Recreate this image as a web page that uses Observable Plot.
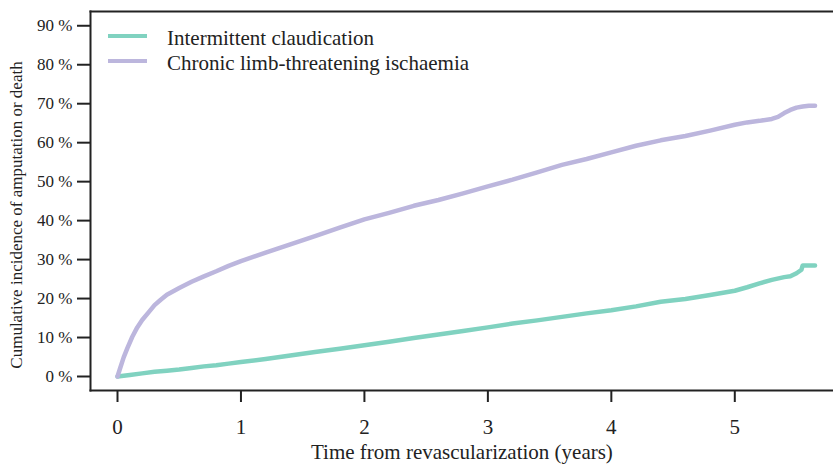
<!DOCTYPE html>
<html><head><meta charset="utf-8">
<script src="https://cdn.jsdelivr.net/npm/d3@7"></script>
<script src="https://cdn.jsdelivr.net/npm/@observablehq/plot@0.6"></script>
<style>
body{margin:0;background:#fff}
#wrap{position:relative;width:833px;height:466px;font-family:'Liberation Serif','Times New Roman',serif;color:#222}
.lab{position:absolute;white-space:nowrap}
.sw{position:absolute;height:4px;width:39px}
</style>
</head><body><div id="wrap"></div>
<script>
const seriesNames = ["Intermittent claudication", "Chronic limb-threatening ischaemia"];
const seriesColors = ["#80d2c0", "#bcb6dd"];
const xTitle = "Time from revascularization (years)";
const yTitle = "Cumulative incidence of amputation or death";
const xTicks = [0, 1, 2, 3, 4, 5];
const yTicks = [0, 10, 20, 30, 40, 50, 60, 70, 80, 90];

const icTime  = [0, 0.1, 0.2, 0.3, 0.4, 0.5, 0.6, 0.7, 0.8, 0.9, 1.0, 1.2, 1.4, 1.6, 1.8, 2.0, 2.2, 2.4, 2.6, 2.8, 3.0, 3.2, 3.4, 3.6, 3.8, 4.0, 4.2, 4.4, 4.6, 4.8, 5.0, 5.1, 5.2, 5.3, 5.4, 5.45, 5.5, 5.54, 5.55, 5.6, 5.65];
const icValue = [0, 0.4, 0.8, 1.2, 1.5, 1.8, 2.2, 2.6, 2.9, 3.3, 3.7, 4.5, 5.4, 6.3, 7.1, 8.0, 8.9, 9.9, 10.8, 11.7, 12.6, 13.6, 14.4, 15.3, 16.2, 17.0, 18.0, 19.2, 19.9, 20.9, 22.0, 22.9, 23.9, 24.8, 25.5, 25.7, 26.5, 27.4, 28.5, 28.5, 28.5];

const cltiTime  = [0, 0.02, 0.05, 0.08, 0.12, 0.16, 0.2, 0.25, 0.3, 0.35, 0.4, 0.5, 0.6, 0.7, 0.8, 0.9, 1.0, 1.2, 1.4, 1.6, 1.8, 2.0, 2.2, 2.4, 2.6, 2.8, 3.0, 3.2, 3.4, 3.6, 3.8, 4.0, 4.2, 4.4, 4.6, 4.8, 5.0, 5.1, 5.2, 5.3, 5.35, 5.4, 5.45, 5.5, 5.55, 5.6, 5.65];
const cltiValue = [0, 2.0, 4.9, 7.3, 10.2, 12.6, 14.5, 16.4, 18.3, 19.7, 21.0, 22.7, 24.3, 25.7, 27.0, 28.4, 29.6, 31.8, 33.9, 36.0, 38.2, 40.3, 42.0, 43.8, 45.3, 47.0, 48.8, 50.5, 52.4, 54.3, 55.8, 57.5, 59.2, 60.6, 61.7, 63.1, 64.6, 65.2, 65.6, 66.1, 66.6, 67.6, 68.4, 69.0, 69.3, 69.5, 69.5];

const rows = [
  ...icTime.map((t, i) => ({t, v: icValue[i], s: seriesNames[0]})),
  ...cltiTime.map((t, i) => ({t, v: cltiValue[i], s: seriesNames[1]}))
];

const plot = Plot.plot({
  width: 833, height: 466,
  marginLeft: 90, marginRight: 0, marginTop: 11, marginBottom: 76,
  style: {fontFamily: "'Liberation Serif','Times New Roman',serif", background: "#fff", color: "#222"},
  x: {domain: [-0.2187, 5.7995]},
  y: {domain: [-3.593, 93.66]},
  color: {domain: seriesNames, range: seriesColors},
  marks: [
    Plot.frame({anchor: "top", strokeWidth: 2, stroke: "#222"}),
    Plot.frame({anchor: "left", strokeWidth: 2, stroke: "#222"}),
    Plot.frame({anchor: "bottom", strokeWidth: 2, stroke: "#222"}),
    Plot.axisY({ticks: yTicks, tickSize: 13, tickPadding: 5, tickFormat: d => d + " %", fontSize: 17, label: null, strokeWidth: 2}),
    Plot.axisX({ticks: xTicks, tickSize: 12, tickPadding: 17, tickFormat: d => String(d), fontSize: 21, label: null, strokeWidth: 2}),
    Plot.line(rows, {x: "t", y: "v", z: "s", stroke: "s", strokeWidth: 4.5, curve: "linear"})
  ]
});
const wrap = document.getElementById("wrap");
wrap.appendChild(plot);

function addLab(text, style) {
  const d = document.createElement("div");
  d.className = "lab"; d.textContent = text;
  Object.assign(d.style, style);
  wrap.appendChild(d);
  return d;
}
// x title
addLab(xTitle, {fontSize: "21px", top: "440px", left: "311px"});
// y title
addLab(yTitle, {fontSize: "17px", left: "16px", top: "215px", transform: "translate(-50%,-50%) rotate(-90deg)", lineHeight: "17px"});
// legend
seriesNames.forEach((n, i) => {
  const sw = document.createElement("div");
  sw.className = "sw";
  Object.assign(sw.style, {left: "108px", top: (34 + 25 * i) + "px", background: seriesColors[i]});
  wrap.appendChild(sw);
  addLab(n, {fontSize: "21px", left: "167px", top: (25 + 25 * i) + "px", lineHeight: "26px"});
});
</script>
</body></html>
